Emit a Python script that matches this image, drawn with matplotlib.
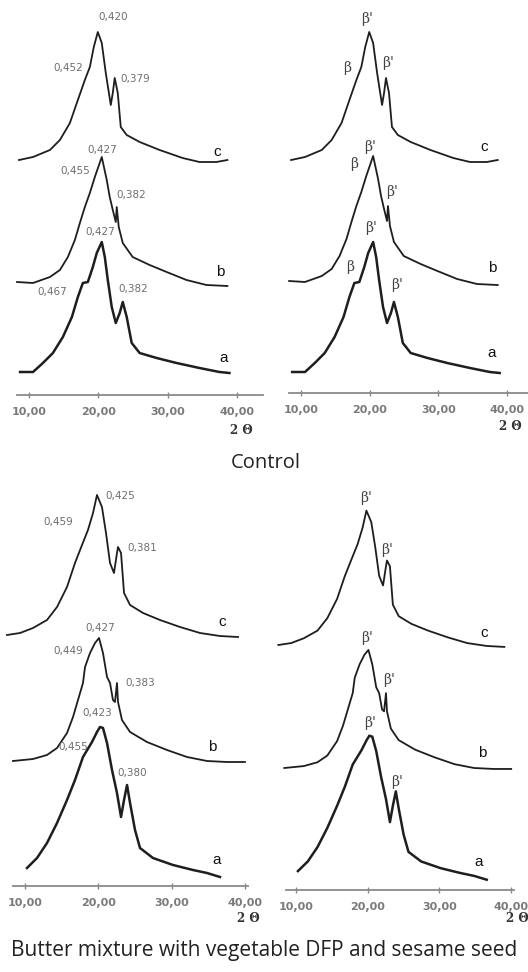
import matplotlib
matplotlib.use("Agg")
import matplotlib.pyplot as plt

# ---- data (2 theta in degrees, intensity in arbitrary units above each trace's baseline) ----
# "Control" sample, traces a, b, c
ctrl_c_x = [8.56, 10.58, 13.02, 14.46, 15.9, 17.05, 18.06, 18.78, 19.35, 19.93, 20.5, 21.08,
            21.8, 22.09, 22.37, 22.81, 23.24, 24.1, 25.97, 28.85, 32.16, 34.6, 37.05, 38.63]
ctrl_c_y = [0, 3, 10, 20, 37, 60, 80, 93, 113, 128, 117, 87,
            55, 67, 82, 67, 33, 25, 18, 10, 2, -2, -2, 0]

ctrl_b_x = [8.27, 10.58, 13.02, 14.46, 15.61, 16.62, 17.34, 18.06, 18.78, 19.5, 20.5, 21.22,
            21.65, 22.09, 22.52, 22.66, 22.95, 23.53, 24.96, 27.41, 29.86, 32.73, 35.61, 38.63]
ctrl_b_y = [1, 0, 6, 13, 26, 43, 60, 76, 90, 106, 126, 103,
            86, 73, 61, 76, 56, 40, 26, 18, 11, 3, -2, -3]

ctrl_a_x = [8.71, 10.58, 12.01, 13.45, 14.89, 16.19, 17.05, 17.77, 18.49, 19.21, 19.78, 20.5, 20.94,
            21.37, 21.94, 22.52, 23.09, 23.53, 24.1, 24.82, 25.97, 28.42, 31.29, 34.6, 37.48, 38.92]
ctrl_a_y = [0, 0, 9, 19, 35, 55, 75, 89, 90, 105, 119, 130, 115,
            92, 65, 49, 59, 70, 55, 29, 19, 14, 9, 4, 0, -1]

# butter mixture with vegetable DFP and sesame seed, traces a, b, c
mix_c_x = [7.54, 9.32, 11.09, 13.0, 14.37, 15.73, 16.82, 17.78, 18.59, 19.28, 19.82, 20.5, 21.05,
           21.6, 22.14, 22.55, 22.69, 23.1, 23.51, 24.33, 26.1, 28.42, 31.15, 33.88, 36.6, 39.06]
mix_c_y = [0, 2, 7, 15, 28, 48, 72, 90, 105, 122, 140, 128, 102,
           72, 62, 82, 88, 82, 42, 30, 22, 15, 8, 2, -1, -2]

mix_b_x = [8.36, 11.09, 13.0, 14.37, 15.73, 16.55, 17.23, 17.91, 18.19, 18.87, 19.55, 20.1, 20.64,
           21.19, 21.6, 22.0, 22.28, 22.55, 22.69, 23.23, 24.33, 26.64, 29.37, 32.1, 34.83, 37.56, 40.01]
mix_b_y = [0, 2, 6, 13, 28, 44, 61, 78, 94, 108, 118, 123, 108,
           84, 78, 61, 59, 78, 59, 41, 29, 19, 11, 4, 0, -1, -1]

mix_a_x = [10.27, 11.64, 13.0, 14.37, 15.73, 16.82, 17.91, 19.14, 19.82, 20.23, 20.64, 21.19, 21.87,
           22.55, 23.1, 23.51, 23.92, 24.33, 25.01, 25.69, 27.46, 30.19, 32.92, 34.83, 36.6]
mix_a_y = [2, 12, 27, 47, 70, 90, 113, 128, 138, 143, 142, 127, 100,
           77, 53, 70, 85, 67, 40, 22, 12, 5, 0, -3, -7]

tick_vals = [10, 20, 30, 40]
tick_labels = ["10,00", "20,00", "30,00", "40,00"]

# interplanar spacing labels (nm) and polymorph labels
ctrl_d_labels = ["0,420", "0,452", "0,379", "0,427", "0,455", "0,382", "0,427", "0,467", "0,382"]
ctrl_d_pos = [(22.12, 378), (15.63, 327), (25.30, 316), (20.53, 245), (16.64, 224), (24.72, 200),
              (20.25, 163), (13.32, 103), (25.01, 106)]
ctrl_form_labels = ["β'", "β", "β'", "β'", "β", "β'", "β'", "β", "β'"]
ctrl_form_pos = [(19.61, 374), (16.70, 325), (22.66, 330), (20.04, 246), (17.71, 229), (23.25, 201),
                 (20.19, 165), (17.13, 126), (23.97, 108)]

mix_d_labels = ["0,425", "0,459", "0,381", "0,427", "0,449", "0,383", "0,423", "0,455", "0,380"]
mix_d_pos = [(22.96, 390), (14.50, 364), (25.96, 338), (20.23, 258), (15.87, 235), (25.69, 203),
             (19.82, 173), (16.55, 139), (24.60, 113)]
mix_form_labels = ["β'", "β'", "β'", "β'", "β'", "β'"]
mix_form_pos = [(19.76, 392), (22.69, 340), (19.90, 252), (22.97, 210), (20.32, 167), (24.09, 108)]

W, H = 528, 972
fig = plt.figure(figsize=(W / 100, H / 100), dpi=100)
fig.patch.set_facecolor("white")


def add_panel(left, right, top, axis_y, x10, ppu):
    # axes whose y units are pixels above the axis line
    ax = fig.add_axes([left / W, 1 - axis_y / H, (right - left) / W, (axis_y - top) / H])
    ax.set_xlim(10 + (left - x10) / ppu, 10 + (right - x10) / ppu)
    ax.set_ylim(0, axis_y - top)
    ax.patch.set_alpha(0)
    for s in ["top", "left", "right"]:
        ax.spines[s].set_visible(False)
    ax.spines["bottom"].set_color("#8a8a8a")
    ax.spines["bottom"].set_linewidth(1.3)
    ax.set_yticks([])
    ax.set_xticks(tick_vals)
    ax.set_xticklabels(tick_labels, fontweight="bold")
    ax.tick_params(axis="x", direction="inout", length=5, width=1, color="#8a8a8a",
                   pad=6, labelsize=8, labelcolor="#7a7a7a")
    return ax


def draw_traces(ax, traces, offsets, scale):
    for (x, y), off, lw in zip(traces, offsets, [1.8, 1.3, 1.3]):
        ax.plot(x, [off + scale * v for v in y], color="#1e1e1e", lw=lw, clip_on=False,
                solid_joinstyle="round")


def letter_labels(ax, pos):
    for t, (x, y) in zip(["c", "b", "a"], pos):
        ax.text(x, y, t, fontsize=11, family="Liberation Sans", ha="center", va="center",
                color="#111111")


ctrl = [(ctrl_a_x, ctrl_a_y), (ctrl_b_x, ctrl_b_y), (ctrl_c_x, ctrl_c_y)]
mix = [(mix_a_x, mix_a_y), (mix_b_x, mix_b_y), (mix_c_x, mix_c_y)]

# top left
ax1 = add_panel(17, 263, 0, 395, 29, 6.93)
draw_traces(ax1, ctrl, [23, 112, 235], 1.0)
for t, (x, y) in zip(ctrl_d_labels, ctrl_d_pos):
    ax1.text(x, y, t, fontsize=7.5, color="#6e6e6e", ha="center", va="center")
letter_labels(ax1, [(37.13, 243), (37.56, 123), (38.14, 37)])

# top right
ax2 = add_panel(289, 528, 0, 393, 301, 6.87)
draw_traces(ax2, ctrl, [21, 111, 233], 1.0)
for t, (x, y) in zip(ctrl_form_labels, ctrl_form_pos):
    ax2.text(x, y, t, fontsize=10, family="DejaVu Serif", color="#444444", ha="center", va="center")
letter_labels(ax2, [(36.64, 246), (37.80, 125), (37.80, 40)])

# bottom left
ax3 = add_panel(13, 248, 475, 886, 25, 7.33)
draw_traces(ax3, mix, [16, 125, 251], 1.0)
for t, (x, y) in zip(mix_d_labels, mix_d_pos):
    ax3.text(x, y, t, fontsize=7.5, color="#6e6e6e", ha="center", va="center")
letter_labels(ax3, [(36.88, 264), (35.51, 139), (36.19, 26)])

# bottom right
ax4 = add_panel(286, 514, 475, 890, 296, 7.17)
draw_traces(ax4, mix, [17, 122, 245], 0.96)
for t, (x, y) in zip(mix_form_labels, mix_form_pos):
    ax4.text(x, y, t, fontsize=10, family="DejaVu Serif", color="#444444", ha="center", va="center")
letter_labels(ax4, [(36.22, 257), (35.94, 137), (35.52, 28)])

# 2 theta axis titles
for px, py in [(241, 430), (510, 426), (248, 918), (517, 918)]:
    fig.text(px / W, 1 - py / H, "2 Θ", fontsize=8.5, family="DejaVu Serif", fontweight="bold",
             color="#333333", ha="center", va="center")

fig.text(266 / W, 1 - 463 / H, "Control", fontsize=14.5, family="Open Sans", color="#222222",
         ha="center", va="center")
fig.text(264 / W, 1 - 950 / H, "Butter mixture with vegetable DFP and sesame seed", fontsize=15,
         family="Open Sans", color="#222222", ha="center", va="center")

fig.savefig("out.png", dpi=100, facecolor="white")
